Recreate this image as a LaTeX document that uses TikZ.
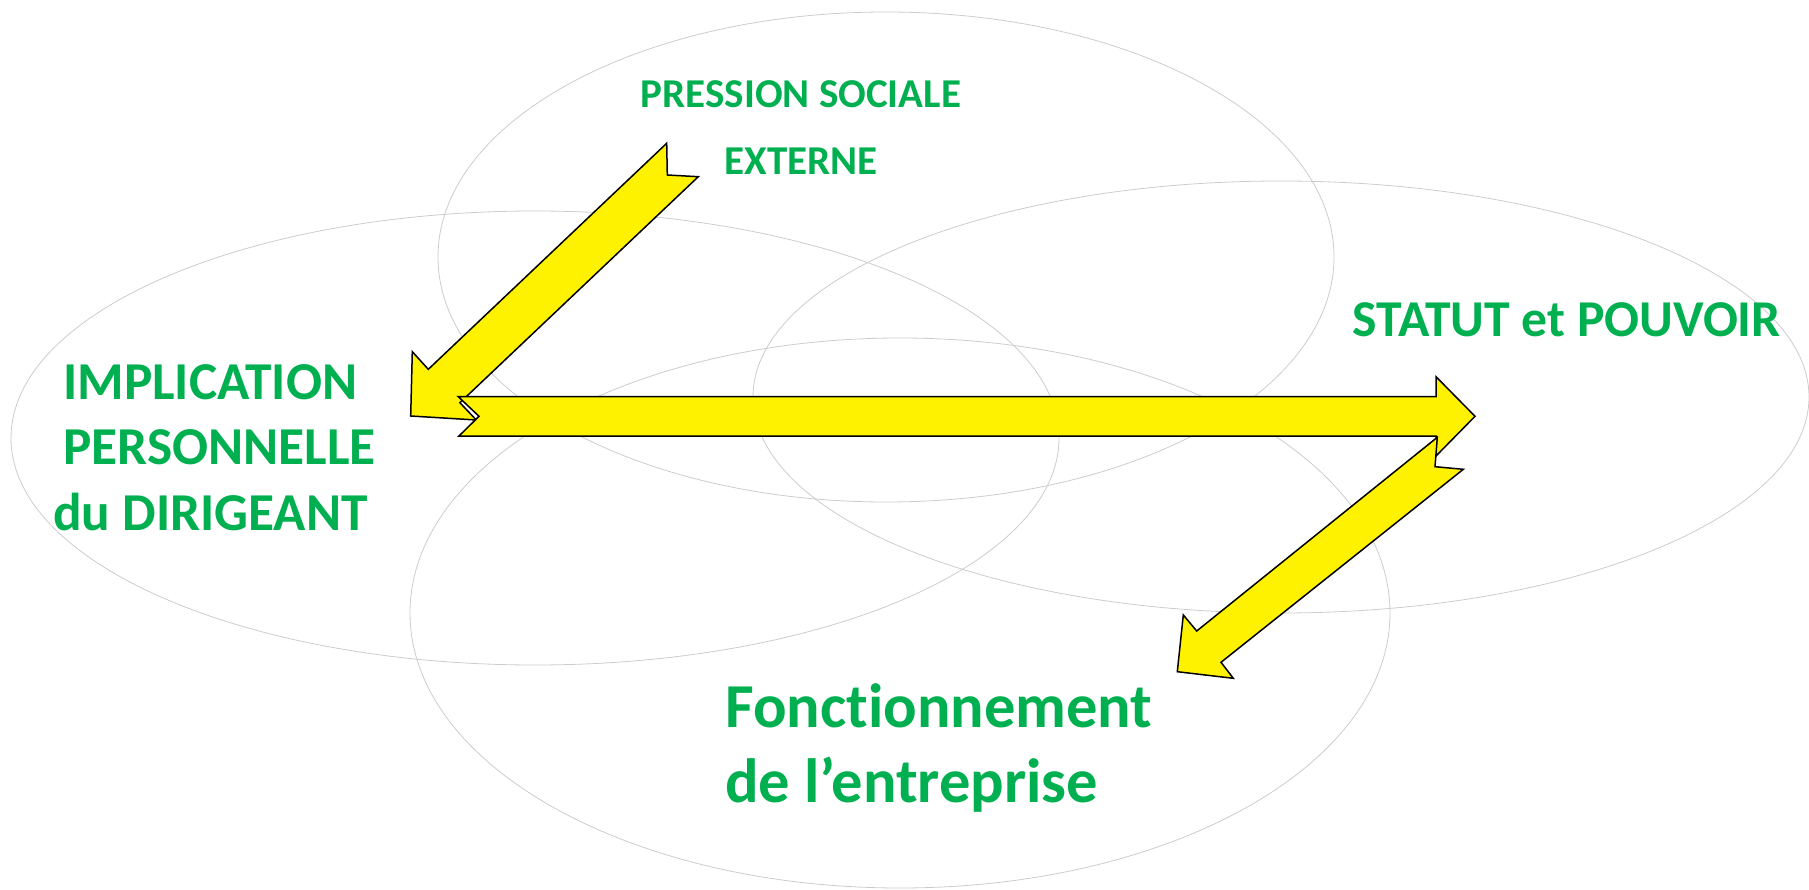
\documentclass[tikz,border=0pt]{standalone}
\usepackage{fontspec}
\setmainfont{Carlito}[Ligatures=NoCommon]
\usepackage{tikz}
\usetikzlibrary{positioning}
\definecolor{labelgreen}{HTML}{00B050}
\tikzset{%
  every zone/.style={
    draw=gray!40,
    line width=0.8pt
  },
  block arrow/.style={
    draw=black,
    fill=yellow,
    line width=1.5pt,
    line join=miter
  },
  zone label/.style={
    text=labelgreen,
    inner sep=0pt
  },
}

\begin{document}
\begin{tikzpicture}[x=1pt, y=-1pt]
\useasboundingbox (0,0) rectangle (1809,890);
% the four zones
\foreach \cx/\cy/\rx/\ry in {886/257/448/245, 535/438/524/227, 1281/397/528/216, 900/613/490/275}
    \draw[every zone] (\cx,\cy) ellipse [x radius=\rx, y radius=\ry];
% notched block arrows
\draw[block arrow] (666.7,143.3) -- (428.3,369.3) -- (412.3,351.7) -- (410.7,416) -- (476.3,420) -- (459.9,402.7) -- (698.3,176.7) -- (667.3,175) -- cycle;
\draw[block arrow] (458.3,396.7) -- (1436,396.7) -- (1436,376.7) -- (1475,416.3) -- (1436,456) -- (1436,436) -- (459,436) -- (479,416.3) -- cycle;
\draw[block arrow] (1437.3,437.3) -- (1196.7,631) -- (1183.3,615) -- (1177.3,671.7) -- (1233.3,678.3) -- (1221,662.3) -- (1463.3,469.3) -- (1435,466.7) -- cycle;
% labels
\node[zone label, font=\bfseries\fontsize{41}{67}\selectfont, align=center, anchor=north] (pression) at (801,80.7) {PRESSION SOCIALE\\EXTERNE};
\node[zone label, font=\bfseries\fontsize{51.7}{60}\selectfont, anchor=base] (statut) at (1566.7,336.7) {STATUT et POUVOIR};
\node[zone label, font=\bfseries\fontsize{53.3}{65.5}\selectfont, align=left, anchor=north west] (implication) at (53,364) {\hspace*{10pt}IMPLICATION\\\hspace*{10pt}PERSONNELLE\\du DIRIGEANT};
\node[zone label, font=\bfseries\fontsize{62.5}{75.6}\selectfont, align=left, anchor=north west] (fonctionnement) at (725,683.3) {Fonctionnement\\de l’entreprise};
\end{tikzpicture}
\end{document}
